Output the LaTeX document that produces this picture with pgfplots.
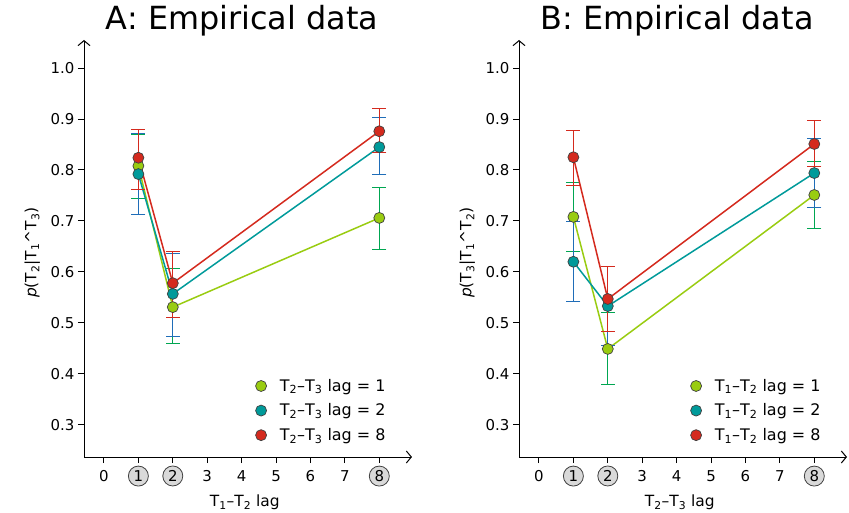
\documentclass[border=0pt]{standalone}
\usepackage{fontspec}
\setmainfont{DejaVu Sans}
\usepackage{pgfplots}
\pgfplotsset{compat=1.18}
\usetikzlibrary{arrows.meta}

\definecolor{lime}{HTML}{99CC11}
\definecolor{tealc}{HTML}{009A9A}
\definecolor{redc}{HTML}{D42A1E}
\definecolor{ebgreen}{HTML}{00A651}
\definecolor{ebblue}{HTML}{1F6DB8}

% circled tick label, bounding box only as big as a digit
\newcommand{\cn}[1]{\tikz[baseline=(c.base)]{\node[circle,draw=black!75,fill=black!15,minimum size=20bp,inner sep=0pt,line width=0.8bp,overlay](c){#1};
  \path (c.base) ++(-4.5bp,0) rectangle ++(9bp,11bp);}}

\pgfplotsset{
  panel/.style={
    scale only axis, width=328bp, height=417bp,
    axis lines=left,
    axis line style={line width=1bp, -{Straight Barb[length=5bp,width=12bp]}},
    xmin=-0.58, xmax=8.95, ymin=0.237, ymax=1.055,
    xtick={0,...,8}, xticklabels={0,\cn{1},\cn{2},3,4,5,6,7,\cn{8}},
    ytick={0.3,0.4,0.5,0.6,0.7,0.8,0.9,1.0},
    yticklabel style={/pgf/number format/.cd, fixed, fixed zerofill, precision=1},
    /pgf/number format/assume math mode=true,
    tick align=outside, major tick length=6bp,
    tick style={black, line width=1bp},
    tick label style={font=\fontsize{15}{17}\selectfont},
    xticklabel style={yshift=-4bp},
    label style={font=\fontsize{15.5}{18}\selectfont},
    xlabel style={at={(axis description cs:0.49,-0.108)}, anchor=center},
    ylabel style={at={(axis description cs:-0.158,0.49)}, anchor=center, rotate=0},
    title style={at={(axis description cs:0.482,1.012)}, anchor=base,
      font=\fontsize{32}{36}\selectfont},
    legend style={at={(axis description cs:0.935,0.026)}, anchor=south east,
      draw=none, fill=none, font=\fontsize{16}{18}\selectfont, row sep=7bp},
    legend cell align=left,
    legend image code/.code={\draw[#1] plot coordinates {(0bp,0bp)}; \path (-6bp,0) (16bp,0);},
    clip=false,
  },
  ser/.style n args={2}{color=#1, line width=1.5bp, mark=*, mark size=5.5bp,
    mark options={fill=#1, draw=black!75, line width=0.7bp},
    error bars/y dir=both, error bars/y explicit,
    error bars/error bar style={#2, line width=1bp},
    error bars/error mark options={#2, rotate=90, mark size=7bp, line width=1bp}},
}

\begin{document}
\begin{tikzpicture}
\path[use as bounding box] (0,0) rectangle (849bp,513bp);

% Panel A
\begin{axis}[panel, at={(84bp,56bp)}, anchor=south west,
  title={A: Empirical data},
  xlabel={T\textsubscript{1}–T\textsubscript{2} lag},
  ylabel={\textit{p}(T\textsubscript{2}|T\textsubscript{1}\textasciicircum T\textsubscript{3})}]
\addplot[ser={lime}{ebgreen}] coordinates {
  (1,0.808) += (0,0.061) -= (0,0.063)
  (2,0.531) += (0,0.075) -= (0,0.072)
  (8,0.706) += (0,0.059) -= (0,0.061)};
\addlegendentry{T\textsubscript{2}–T\textsubscript{3} lag = 1}
\addplot[ser={tealc}{ebblue}] coordinates {
  (1,0.792) += (0,0.080) -= (0,0.080)
  (2,0.557) += (0,0.080) -= (0,0.084)
  (8,0.845) += (0,0.057) -= (0,0.053)};
\addlegendentry{T\textsubscript{2}–T\textsubscript{3} lag = 2}
\addplot[ser={redc}{redc}] coordinates {
  (1,0.824) += (0,0.056) -= (0,0.063)
  (2,0.578) += (0,0.063) -= (0,0.068)
  (8,0.876) += (0,0.045) -= (0,0.041)};
\addlegendentry{T\textsubscript{2}–T\textsubscript{3} lag = 8}
\end{axis}

% Panel B
\begin{axis}[panel, at={(519bp,56bp)}, anchor=south west,
  title={B: Empirical data},
  xlabel={T\textsubscript{2}–T\textsubscript{3} lag},
  ylabel={\textit{p}(T\textsubscript{3}|T\textsubscript{1}\textasciicircum T\textsubscript{2})}]
\addplot[ser={lime}{ebgreen}] coordinates {
  (1,0.708) += (0,0.068) -= (0,0.068)
  (2,0.449) += (0,0.071) -= (0,0.069)
  (8,0.751) += (0,0.065) -= (0,0.065)};
\addlegendentry{T\textsubscript{1}–T\textsubscript{2} lag = 1}
\addplot[ser={tealc}{ebblue}] coordinates {
  (1,0.620) += (0,0.078) -= (0,0.077)
  (2,0.533) += (0,0.077) -= (0,0.077)
  (8,0.794) += (0,0.067) -= (0,0.068)};
\addlegendentry{T\textsubscript{1}–T\textsubscript{2} lag = 2}
\addplot[ser={redc}{redc}] coordinates {
  (1,0.825) += (0,0.053) -= (0,0.055)
  (2,0.547) += (0,0.063) -= (0,0.063)
  (8,0.851) += (0,0.047) -= (0,0.045)};
\addlegendentry{T\textsubscript{1}–T\textsubscript{2} lag = 8}
\end{axis}
\end{tikzpicture}
\end{document}
